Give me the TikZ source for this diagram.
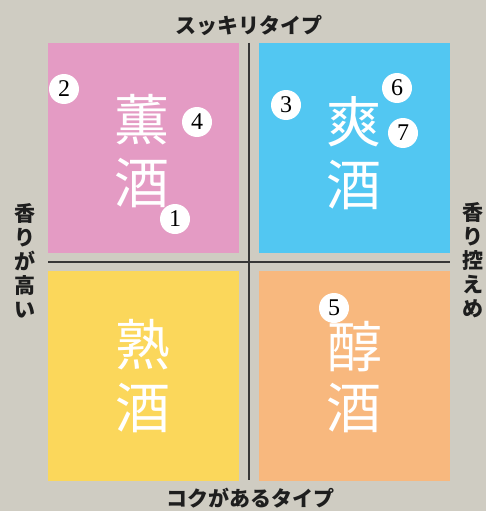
\documentclass[tikz,border=0pt]{standalone}
\usepackage{fontspec}
\setmainfont{Liberation Serif}
\newfontfamily\jp{Noto Sans CJK JP}
\definecolor{bgc}{RGB}{207,204,194}
\definecolor{pinkq}{RGB}{228,155,196}
\definecolor{blueq}{RGB}{82,199,242}
\definecolor{yellowq}{RGB}{251,215,91}
\definecolor{orangeq}{RGB}{248,184,126}
\definecolor{axisgray}{RGB}{55,55,55}
\definecolor{labcol}{RGB}{30,30,30}
\begin{document}
\begin{tikzpicture}[x=1pt,y=-1pt,
  quad/.style={draw=none,minimum width=191pt,minimum height=209.5pt,inner sep=0,outer sep=0,anchor=north west},
  kanji/.style={text=white,font=\jp\fontsize{55}{55}\selectfont,inner sep=0},
  num/.style={circle,fill=white,minimum size=30pt,inner sep=0,font=\fontsize{24}{24}\selectfont},
  axisline/.style={draw=axisgray,line width=2pt},
  lab/.style={font=\jp\bfseries\fontsize{21}{24}\selectfont,text=labcol,inner sep=0,align=center}]
\fill[bgc] (0,0) rectangle (486,511);
\useasboundingbox (0,0) rectangle (486,511);
% quadrants
\node[quad,fill=pinkq] (qpink) at (48,43) {};
\node[quad,fill=blueq] (qblue) at (259,43) {};
\node[quad,fill=yellowq,minimum height=210pt] (qyellow) at (48,271) {};
\node[quad,fill=orangeq,minimum height=210pt] (qorange) at (259,271) {};
% axes
\coordinate (vtop) at (249,43);
\coordinate (vbot) at (249,480);
\coordinate (hleft) at (48,261.5);
\coordinate (hright) at (450,261.5);
\draw[axisline] (vtop) -- (vbot);
\draw[axisline] (hleft) -- (hright);
% axis labels
\node[lab] (ltop) at (249,25) {スッキリタイプ};
\node[lab] (lbot) at (250,498) {コクがあるタイプ};
\node[lab] (lleft) at (25,261) {香\\り\\が\\高\\い};
\node[lab] (lright) at (473,260) {香\\り\\控\\え\\め};
% circles behind kanji in orange
\node[num] (n5) at (334,308) {5};
% kanji
\node[kanji] (k1a) at (142,120) {薫};
\node[kanji] (k1b) at (142,183) {酒};
\node[kanji] (k2a) at (354,122) {爽};
\node[kanji] (k2b) at (354,185) {酒};
\node[kanji] (k3a) at (143,345) {熟};
\node[kanji] (k3b) at (143,408) {酒};
\node[kanji] (k4a) at (355,347) {醇};
\node[kanji] (k4b) at (354,408) {酒};
% numbered circles
\node[num] (n2) at (64,89) {2};
\node[num] (n4) at (197,122) {4};
\node[num] (n1) at (175,219) {1};
\node[num] (n3) at (286,105) {3};
\node[num] (n6) at (397,88) {6};
\node[num] (n7) at (403,133) {7};
\end{tikzpicture}
\end{document}
